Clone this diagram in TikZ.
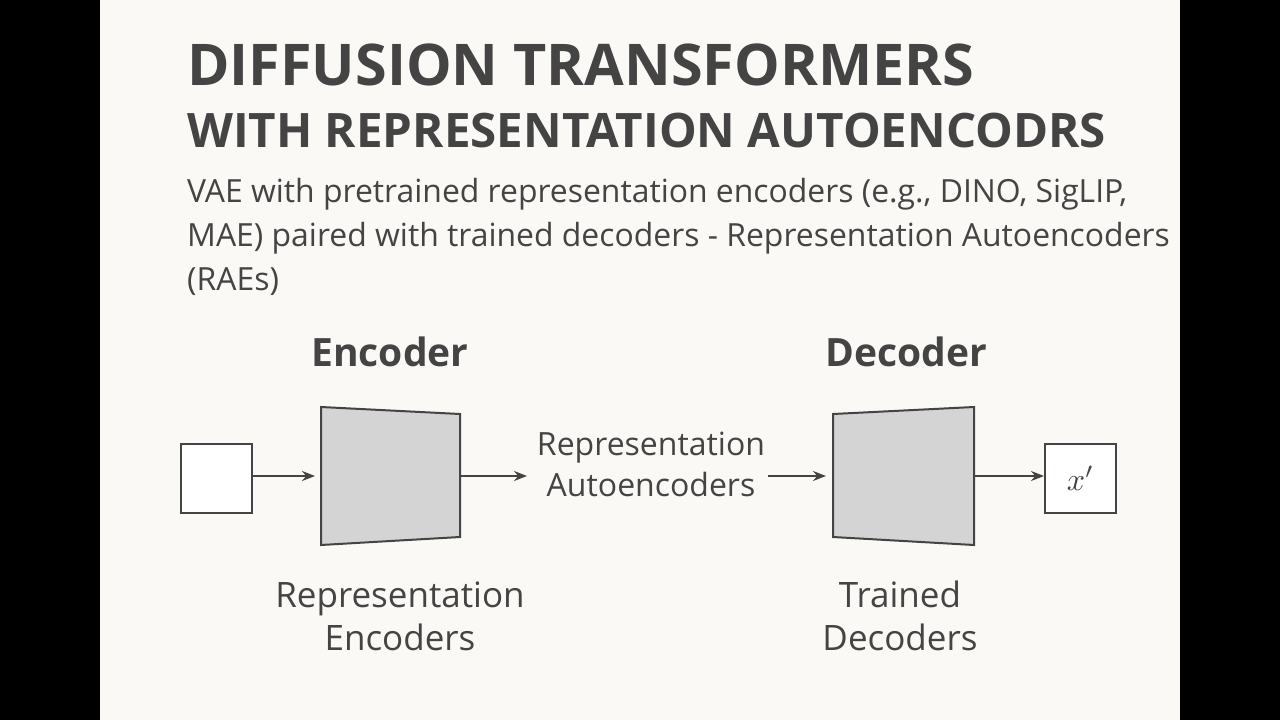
\documentclass[tikz,border=0pt]{standalone}
\usepackage{fontspec}
\setmainfont{Open Sans}
\usetikzlibrary{arrows.meta}
\definecolor{bg}{RGB}{250,249,246}
\definecolor{ink}{RGB}{68,68,68}
\definecolor{boxgray}{RGB}{212,212,212}
\begin{document}
\begin{tikzpicture}[x=1pt,y=-1pt,
  txt/.style={text=ink,inner sep=0pt},
  lbl/.style={txt,font=\fontsize{35}{43}\selectfont,align=center},
  head/.style={txt,font=\fontsize{39}{40}\selectfont\bfseries},
  arr/.style={-{Stealth[length=13pt,width=10pt]},line width=2pt,draw=ink},
  sq/.style={draw=ink,line width=2pt,fill=white}]
\fill[black] (0,0) rectangle (1280,720);
\fill[bg] (100,0) rectangle (1180,720);
\useasboundingbox (0,0) rectangle (1280,720);
\node[txt,anchor=base west,font=\fontsize{57.5}{60}\selectfont\bfseries] (t1) at (187,85) {DIFFUSION TRANSFORMERS};
\node[txt,anchor=base west,font=\fontsize{47.5}{52}\selectfont\bfseries] (t2) at (187,147) {WITH REPRESENTATION AUTOENCODRS};
\node[txt,anchor=north west,font=\fontsize{31.9}{44}\selectfont,align=left] (sub) at (187,178) {VAE with pretrained representation encoders (e.g., DINO, SigLIP,\\MAE) paired with trained decoders - Representation Autoencoders\\(RAEs)};
\node[head] (eh) at (390,352) {Encoder};
\node[head] (dh) at (906,352) {Decoder};
\node[sq,minimum width=71pt,minimum height=69pt] (in) at (216.5,478.5) {};
\draw[draw=ink,line width=2pt,fill=boxgray] (321,407) -- (460,414) -- (460,537) -- (321,545) -- cycle;
\coordinate (encL) at (321,476); \coordinate (encR) at (460,476);
\draw[draw=ink,line width=2pt,fill=boxgray] (833,414) -- (974,407) -- (974,545) -- (833,537) -- cycle;
\coordinate (decL) at (833,476); \coordinate (decR) at (974,476);
\node[lbl,font=\fontsize{32}{41}\selectfont] (ra) at (651,464) {Representation\\Autoencoders};
\node[sq,minimum width=71pt,minimum height=69pt] (out) at (1080.5,478.5) {};
\node[text=ink,scale=3.2,inner sep=0pt] (xp) at (out.center) {$x'$};
\draw[arr] (in.east |- encL) -- (315,476);
\draw[arr] (encR) -- (527,476);
\draw[arr] (768,476) -- (826,476);
\draw[arr] (decR) -- (out.west |- decR);
\node[lbl] (re) at (400,616) {Representation\\Encoders};
\node[lbl] (td) at (900,616) {Trained\\Decoders};
\end{tikzpicture}
\end{document}
